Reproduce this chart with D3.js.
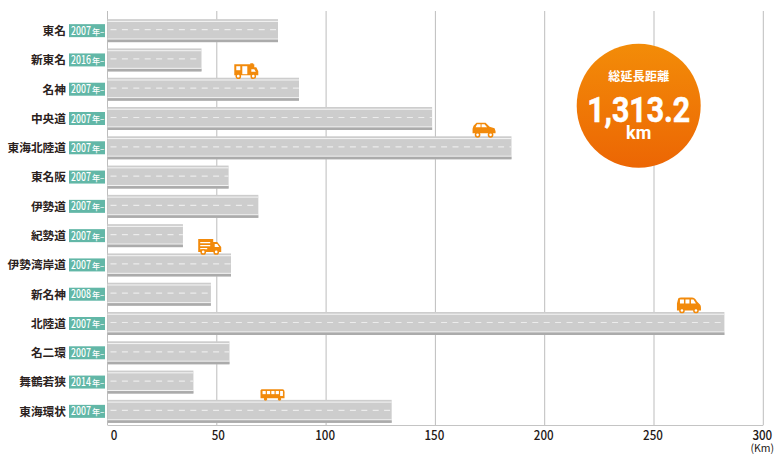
<!DOCTYPE html>
<html><head><meta charset="utf-8">
<script src="https://cdn.jsdelivr.net/npm/d3@7"></script>
<style>html,body{margin:0;padding:0;background:#fff}svg{display:block}
text{font-family:"Noto Sans CJK JP","Noto Sans",sans-serif}</style></head>
<body><svg id="c" width="783" height="459"></svg>
<script>
const roads = ["東名","新東名","名神","中央道","東海北陸道","東名阪","伊勢道","紀勢道","伊勢湾岸道","新名神","北陸道","名二環","舞鶴若狭","東海環状"];
const lengths = [78,43,87.6,148.5,184.8,55.4,69,34.5,56.5,47.3,282.2,55.8,39.3,130];
const startYears = ["2007","2016","2007","2007","2007","2007","2007","2007","2007","2008","2007","2007","2014","2007"];
const xTicks = [0,50,100,150,200,250,300];
const vehicleRoads = ["名神","東海北陸道","伊勢湾岸道","北陸道","東海環状"];
const vehicleKinds = ["camper","car","truck","van","bus"];
const vehicleKm = [58,167,41.5,260.5,70];
const totalLabel = "総延長距離", totalValue = "1,313.2", totalUnit = "km", axisUnit = "(Km)", yearSuffix = "年–";

const svg = d3.select("#c");
const x = d3.scaleLinear().domain([0,300]).range([107.5,763.3]);
const y = d3.scaleBand().domain(roads).range([16.5,426.5]).paddingInner(0);
const barH = 23;
const barTop = r => y(r) + (y.bandwidth()-barH)/2 - 0.5;

const defs = svg.append("defs");
const g = defs.append("linearGradient").attr("id","orb").attr("x1",0).attr("y1",0).attr("x2",0).attr("y2",1);
g.append("stop").attr("offset","0%").attr("stop-color","#f38c08");
g.append("stop").attr("offset","100%").attr("stop-color","#ec6604");

// grid
const grid = svg.append("g");
grid.selectAll("line").data(xTicks).join("line")
  .attr("x1",d=>x(d)).attr("x2",d=>x(d)).attr("y1",11).attr("y2",425)
  .attr("stroke","#bdbdbd").attr("stroke-width",1);
grid.append("line").attr("x1",x(0)).attr("x2",x(300)).attr("y1",425.5).attr("y2",425.5).attr("stroke","#c4c4c4");

// roads
const row = svg.append("g").selectAll("g").data(roads).join("g")
  .attr("transform",r=>`translate(0,${barTop(r)})`);
const w = (r,i) => x(lengths[i])-x(0);
row.append("rect").attr("x",x(0)).attr("width",w).attr("height",barH).attr("fill","#cdcdcd");
row.append("rect").attr("x",x(0)).attr("y",1.7).attr("width",w).attr("height",1.1).attr("fill","#f2f2f2");
row.append("rect").attr("x",x(0)).attr("y",19.4).attr("width",w).attr("height",1.1).attr("fill","#f2f2f2");
row.append("rect").attr("x",x(0)).attr("y",20.5).attr("width",w).attr("height",2.5).attr("fill","#ababab");
row.append("line").attr("x1",x(0)+3).attr("x2",(r,i)=>x(lengths[i])).attr("y1",10.5).attr("y2",10.5)
  .attr("stroke","#ececec").attr("stroke-width",1.2).attr("stroke-dasharray","6 5.4");

// road names
row.append("text").attr("x",66).attr("y",15.8).attr("text-anchor","end")
  .attr("font-size",11.7).attr("font-weight",700).attr("fill","#2b2220").text(r=>r);
// year badges
row.append("rect").attr("x",69).attr("y",5).attr("width",36).attr("height",13).attr("fill","#62b7a7");
row.append("text").attr("transform","translate(71,15.6) scale(0.76,1)").attr("fill","#fff").attr("font-weight",500)
  .attr("font-size",11.5).text((r,i)=>startYears[i]);
row.append("text").attr("x",92).attr("y",15.4).attr("fill","#fff").attr("font-weight",500)
  .attr("font-size",8).attr("textLength",12.5).attr("lengthAdjust","spacingAndGlyphs").text(yearSuffix);

// axis labels
svg.append("g").selectAll("text").data(xTicks).join("text")
  .attr("x",d=>x(d)+(d===0?6.5:d===50?1.5:d>=100?-1:0)).attr("y",439.7).attr("text-anchor","middle")
  .attr("font-size",13).attr("font-weight",500).attr("fill","#231815")
  .attr("textLength",d=>String(d).length*6.6).attr("lengthAdjust","spacingAndGlyphs").text(d=>d);
svg.append("text").attr("x",x(300)-1).attr("y",451.5).attr("text-anchor","middle").attr("font-size",10.5)
  .attr("fill","#231815").text(axisUnit);

// vehicles (local drawings; bottom-left anchored on a road at its km)
const O = "#f28a0b";
const glyph = {
 camper(s){ s.append("path").attr("d","M0 1h16v-1h3v1h1v3h2l2 4v4H0z").attr("fill",O);
   s.append("rect").attr("x",2).attr("y",3).attr("width",4).attr("height",4).attr("fill","#fff");
   s.append("rect").attr("x",8).attr("y",3).attr("width",5).attr("height",8).attr("fill","#fff");
   s.append("path").attr("d","M17 6h3l1.5 2.5H17z").attr("fill","#fff"); wheels(s,[4,19]); },
 car(s){ s.append("path").attr("d","M0 7l1-3 3-3h9l4 4 5 1.5 1 3v2H0z").attr("fill",O);
   s.append("path").attr("d","M4.5 2.5h3.5v3H3zM9 2.5h3l2.500 3H9z").attr("fill","#fff"); wheels(s,[5,18]); },
 truck(s){ s.append("path").attr("d","M0 0h15v3h4l4 5v5H0z").attr("fill",O);
   s.append("path").attr("d","M2 3h10v1.300H2zM2 6h10v1.300H2zM2 9h7v1.300H2zM16.500 5h2.500l2 3h-4.500z").attr("fill","#fff"); wheels(s,[5,18]); },
 van(s){ s.append("path").attr("d","M1 2q0-2 3-2h11q3 0 5 4l3 3q1 1 1 3v3H0V6z").attr("fill",O);
   s.append("path").attr("d","M3 2h4v4H3zM8.500 2h4v4h-4zM14 2h2.500l2.500 4h-5z").attr("fill","#fff"); wheels(s,[5,19]); },
 bus(s){ s.append("path").attr("d","M1 0h21q2 0 2 3v6H0V1z").attr("fill",O);
   s.selectAll("r").data([2,6.4,10.8,15.2]).join("rect").attr("x",d=>d).attr("y",1.6).attr("width",3.2).attr("height",3.2).attr("fill","#fff");
   s.append("rect").attr("x",19.6).attr("y",1.6).attr("width",2.8).attr("height",5).attr("fill","#fff");
   s.selectAll("c").data([5,19]).join("circle").attr("cx",d=>d).attr("cy",9.600).attr("r",1.700).attr("fill",O); }
};
function wheels(s,xs){ s.selectAll("circle.w").data(xs).join("circle").attr("class","w")
   .attr("cx",d=>d).attr("cy",13).attr("r",2.1).attr("fill","#fff").attr("stroke",O).attr("stroke-width",1.5); }
const vHeights = {camper:15,car:15,truck:15,van:15,bus:11};
vehicleRoads.forEach((r,i)=>{
  const k = vehicleKinds[i];
  const s = svg.append("g").attr("transform",`translate(${x(vehicleKm[i])},${barTop(r)-vHeights[k]+0.500})`);
  glyph[k](s);
});

// total badge
const t = svg.append("g").attr("transform","translate(638.7,105.7)");
t.append("circle").attr("r",62).attr("fill","url(#orb)");
t.append("text").attr("y",-25).attr("text-anchor","middle").attr("font-size",12).attr("font-weight",700).attr("fill","#fff").attr("textLength",61).text(totalLabel);
t.append("text").attr("y",16).attr("text-anchor","middle").attr("font-size",35).attr("font-weight",700).attr("fill","#fff")
  .attr("stroke","#fff").attr("stroke-width",0.6)
  .style("font-family","Roboto").attr("textLength",103).attr("lengthAdjust","spacingAndGlyphs").text(totalValue);
t.append("text").attr("y",33.5).attr("text-anchor","middle").attr("font-size",18).attr("font-weight",700).attr("fill","#fff")
  .style("font-family","Roboto").text(totalUnit);
</script></body></html>
